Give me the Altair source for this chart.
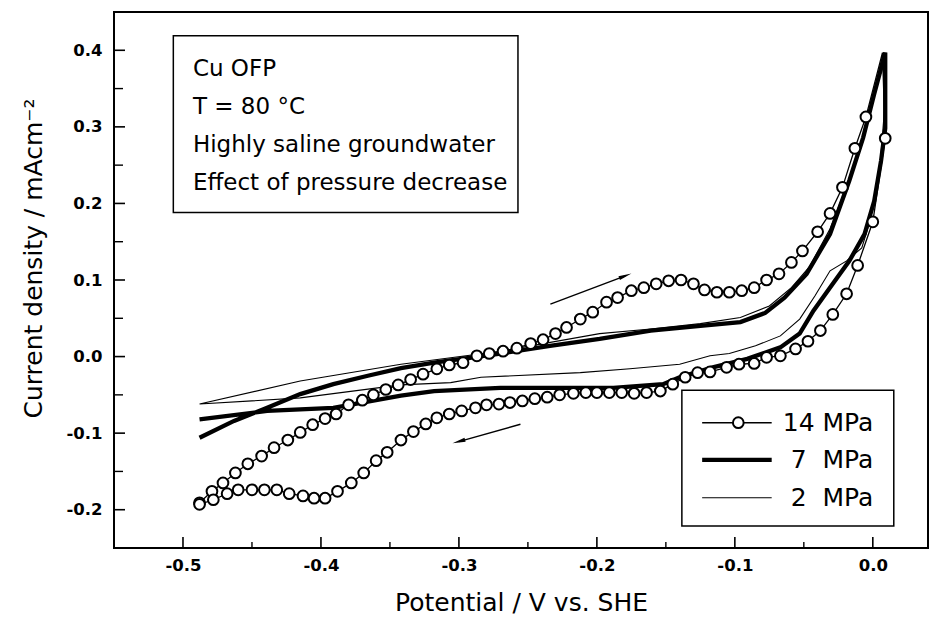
import altair as alt
import pandas as pd

# ---------------- data ----------------
# 14 MPa : anodic (forward) branch, then cathodic (reverse) branch
V14_FWD = [-0.488, -0.479, -0.471, -0.462, -0.453, -0.443, -0.434, -0.424, -0.415, -0.406,
           -0.397, -0.389, -0.380, -0.370, -0.362, -0.353, -0.344, -0.335, -0.326, -0.316,
           -0.307, -0.297, -0.287, -0.278, -0.268, -0.258, -0.248, -0.239, -0.230, -0.222,
           -0.212, -0.203, -0.193, -0.185, -0.175, -0.166, -0.157, -0.148, -0.139, -0.130,
           -0.122, -0.113, -0.104, -0.095, -0.086, -0.077, -0.068, -0.059, -0.051, -0.040,
           -0.031, -0.022, -0.013, -0.005, 0.007]
J14_FWD = [-0.191, -0.176, -0.165, -0.152, -0.140, -0.130, -0.119, -0.109, -0.099, -0.089,
           -0.081, -0.075, -0.063, -0.057, -0.050, -0.043, -0.037, -0.030, -0.023, -0.016,
           -0.011, -0.008, 0.001, 0.004, 0.007, 0.011, 0.017, 0.022, 0.030, 0.038,
           0.049, 0.058, 0.071, 0.077, 0.086, 0.090, 0.095, 0.099, 0.100, 0.095,
           0.087, 0.084, 0.084, 0.086, 0.090, 0.100, 0.108, 0.123, 0.138, 0.163,
           0.187, 0.221, 0.272, 0.313, 0.397]
V14_REV = [0.009, 0.000, -0.011, -0.019, -0.029, -0.038, -0.047, -0.056, -0.067, -0.077,
           -0.086, -0.097, -0.106, -0.118, -0.127, -0.136, -0.145, -0.154, -0.164, -0.173,
           -0.182, -0.191, -0.200, -0.208, -0.217, -0.227, -0.236, -0.245, -0.254, -0.263,
           -0.271, -0.280, -0.288, -0.298, -0.307, -0.316, -0.324, -0.333, -0.342, -0.352,
           -0.360, -0.369, -0.378, -0.388, -0.397, -0.405, -0.413, -0.423, -0.432, -0.441,
           -0.450, -0.460, -0.468, -0.478, -0.488]
J14_REV = [0.285, 0.176, 0.119, 0.082, 0.055, 0.034, 0.020, 0.010, 0.001, -0.001,
           -0.009, -0.010, -0.014, -0.020, -0.021, -0.027, -0.036, -0.045, -0.047, -0.048,
           -0.047, -0.047, -0.047, -0.047, -0.048, -0.050, -0.053, -0.055, -0.058, -0.060,
           -0.062, -0.063, -0.067, -0.071, -0.075, -0.080, -0.088, -0.098, -0.109, -0.125,
           -0.136, -0.152, -0.165, -0.176, -0.185, -0.185, -0.182, -0.179, -0.174, -0.174,
           -0.174, -0.174, -0.179, -0.187, -0.193]

# 7 MPa
V7_FWD = [-0.488, -0.463, -0.439, -0.415, -0.391, -0.366, -0.342, -0.318, -0.294, -0.270,
          -0.234, -0.198, -0.161, -0.125, -0.096, -0.078, -0.064, -0.048, -0.031, -0.017,
          -0.007, 0.001, 0.009]
J7_FWD = [-0.106, -0.084, -0.067, -0.049, -0.036, -0.025, -0.015, -0.008, -0.002, 0.004,
          0.014, 0.023, 0.034, 0.040, 0.045, 0.057, 0.077, 0.108, 0.160, 0.230,
          0.286, 0.343, 0.397]
V7_REV = [0.009, 0.006, 0.001, -0.006, -0.017, -0.029, -0.043, -0.053, -0.067, -0.091,
          -0.116, -0.140, -0.152, -0.188, -0.236, -0.270, -0.318, -0.342, -0.391, -0.439,
          -0.488]
J7_REV = [0.298, 0.256, 0.203, 0.160, 0.125, 0.095, 0.060, 0.030, 0.012, -0.003,
          -0.014, -0.027, -0.036, -0.041, -0.041, -0.041, -0.045, -0.051, -0.067, -0.071,
          -0.082]

# 2 MPa
V2_FWD = [-0.488, -0.415, -0.342, -0.270, -0.198, -0.161, -0.125, -0.096, -0.075, -0.059,
          -0.046, -0.031, -0.017, -0.005, 0.007]
J2_FWD = [-0.062, -0.032, -0.010, 0.007, 0.030, 0.036, 0.043, 0.051, 0.066, 0.090,
          0.117, 0.167, 0.232, 0.298, 0.393]
V2_REV = [0.009, 0.005, -0.002, -0.008, -0.019, -0.031, -0.042, -0.053, -0.067, -0.085,
          -0.104, -0.118, -0.140, -0.176, -0.212, -0.284, -0.306, -0.342, -0.415, -0.488]
J2_REV = [0.335, 0.243, 0.177, 0.142, 0.125, 0.112, 0.079, 0.049, 0.027, 0.014,
          0.004, 0.001, -0.010, -0.016, -0.021, -0.027, -0.034, -0.037, -0.054, -0.062]

SERIES = ["14 MPa", "7 MPa", "2 MPa"]
LEG_LABELS = ["14 MPa", "7\u00a0 MPa", "2\u00a0 MPa"]
X_TICKS = [-0.5, -0.4, -0.3, -0.2, -0.1, 0.0]
X_MINOR = [-0.45, -0.35, -0.25, -0.15, -0.05]
Y_TICKS = [-0.2, -0.1, 0.0, 0.1, 0.2, 0.3, 0.4]
Y_MINOR = [-0.15, -0.05, 0.05, 0.15, 0.25, 0.35]

INFO_LINES = ["Cu OFP", "T = 80 \u00b0C", "Highly saline groundwater", "Effect of pressure decrease"]
INFO_J = [0.367, 0.317, 0.267, 0.217]
INFO_V = -0.4928
INFO_BOX = dict(v=-0.507, v2=-0.2572, j=0.419, j2=0.188)

LEG_BOX = dict(v=-0.1384, v2=0.0152, j=-0.0439, j2=-0.2213)
LEG_J = [-0.0863, -0.1350, -0.1843]
LEG_LINE_V = (-0.1237, -0.0733)
LEG_MARK_V = -0.0975
LEG_TEXT_V = 0.0004

ARROW_V = [-0.2337, -0.2554]
ARROW_J = [0.0685, -0.0884]
ARROW_V2 = [-0.1794, -0.3001]
ARROW_J2 = [0.1055, -0.1110]
ARROW_ANGLE = [69, 254]

# ---------------- tables ----------------
rows = []


def add(series, vs, js, start):
    for i, (v, j) in enumerate(zip(vs, js)):
        rows.append(dict(series=series, v=v, j=j, order=start + i))


add("14 MPa", V14_FWD, J14_FWD, 0)
add("14 MPa", V14_REV, J14_REV, 1000)
add("7 MPa", V7_FWD, J7_FWD, 0)
add("7 MPa", V7_REV, J7_REV, 1000)
add("2 MPa", V2_FWD, J2_FWD, 0)
add("2 MPa", V2_REV, J2_REV, 1000)
curves = pd.DataFrame(rows)
c14 = curves[curves.series == "14 MPa"]
pts14 = c14[c14.j < 0.39]

FONT = "DejaVu Sans"
XS = alt.Scale(domain=[-0.55, 0.04], nice=False, zero=False)
YS = alt.Scale(domain=[-0.25, 0.45], nice=False, zero=False)
LBL = "replace(format(datum.value, '.1f'), '\u2212', '-')"
XAX = alt.Axis(values=X_TICKS, labelExpr=LBL, title="Potential / V vs. SHE", ticks=False,
               domain=False, grid=False, labelPadding=9, titlePadding=17,
               labelFontWeight="bold", labelFontSize=16.5, titleFontSize=25,
               titleFontWeight="normal", labelColor="black", titleColor="black",
               labelFont=FONT, titleFont=FONT)
YAX = alt.Axis(values=Y_TICKS, labelExpr=LBL, title="Current density / mAcm\u207b\u00b2", ticks=False,
               domain=False, grid=False, labelPadding=12, titlePadding=19, titleY=246,
               labelFontWeight="bold", labelFontSize=16.5, titleFontSize=25,
               titleFontWeight="normal", labelColor="black", titleColor="black",
               labelFont=FONT, titleFont=FONT)


def X(f="v"):
    return alt.X(f + ":Q", scale=XS, axis=XAX)


def Y(f="j"):
    return alt.Y(f + ":Q", scale=YS, axis=YAX)


thin2 = alt.Chart(curves[curves.series == "2 MPa"]).mark_line(color="black", strokeWidth=1.1).encode(
    x=X(), y=Y(), order="order:Q")
thick7 = alt.Chart(curves[curves.series == "7 MPa"]).mark_line(color="black", strokeWidth=4.3).encode(
    x=X(), y=Y(), order="order:Q")
line14 = alt.Chart(c14).mark_line(color="black", strokeWidth=1.3).encode(
    x=X(), y=Y(), order="order:Q")
circ14 = alt.Chart(pts14).mark_point(shape="circle", filled=True, fill="white", stroke="black",
                                      strokeWidth=2, size=115, opacity=1).encode(x=X(), y=Y())

# info box
info_box = alt.Chart(pd.DataFrame([INFO_BOX])).mark_rect(fill="white", stroke="black", strokeWidth=1.5).encode(
    x=X(), x2="v2:Q", y=Y(), y2="j2:Q")
info_txt = alt.Chart(pd.DataFrame({"t": INFO_LINES, "j": INFO_J, "v": [INFO_V] * 4})).mark_text(
    align="left", baseline="alphabetic", font=FONT, fontSize=23, color="black").encode(
    x=X(), y=Y(), text="t:N")

# legend
leg_box = alt.Chart(pd.DataFrame([LEG_BOX])).mark_rect(fill="white", stroke="black", strokeWidth=1.5).encode(
    x=X(), x2="v2:Q", y=Y(), y2="j2:Q")
leg_df = pd.DataFrame({"t": LEG_LABELS, "j": LEG_J, "v": [LEG_LINE_V[0]] * 3, "v2": [LEG_LINE_V[1]] * 3,
                       "w": [1.5, 4.3, 1.1], "vt": [LEG_TEXT_V] * 3, "vm": [LEG_MARK_V] * 3})
leg_lines = alt.Chart(leg_df).mark_rule(color="black").encode(
    x=X(), x2="v2:Q", y=Y(), strokeWidth=alt.StrokeWidth("w:Q", scale=None))
leg_mark = alt.Chart(leg_df.iloc[[0]]).mark_point(shape="circle", filled=True, fill="white", stroke="black",
                                                   strokeWidth=2, size=115, opacity=1).encode(x=X("vm"), y=Y())
leg_txt = alt.Chart(leg_df).mark_text(align="right", baseline="middle", font=FONT, fontSize=25,
                                      color="black").encode(x=X("vt"), y=Y(), text="t:N")

# arrows
arr_df = pd.DataFrame({"v": ARROW_V, "j": ARROW_J, "v2": ARROW_V2, "j2": ARROW_J2, "a": ARROW_ANGLE})
arr_lines = alt.Chart(arr_df).mark_rule(color="black", strokeWidth=1.4).encode(
    x=X(), x2="v2:Q", y=Y(), y2="j2:Q")
arr_heads = alt.Chart(arr_df).mark_point(shape="M0,-1L0.32,1L-0.32,1Z", filled=True, fill="black",
                                         opacity=1, size=170, strokeWidth=0).encode(
    x=X("v2"), y=Y("j2"), angle=alt.Angle("a:Q", scale=None))

# inward ticks
xt_major = pd.DataFrame({"v": X_TICKS, "j": [-0.25] * len(X_TICKS), "j2": [-0.25] * len(X_TICKS)})
xt_minor = pd.DataFrame({"v": X_MINOR, "j": [-0.25] * len(X_MINOR), "j2": [-0.25] * len(X_MINOR)})
yt_major = pd.DataFrame({"j": Y_TICKS, "v": [-0.55] * len(Y_TICKS), "v2": [-0.55] * len(Y_TICKS)})
yt_minor = pd.DataFrame({"j": Y_MINOR, "v": [-0.55] * len(Y_MINOR), "v2": [-0.55] * len(Y_MINOR)})
xtM = alt.Chart(xt_major).mark_rule(color="black", strokeWidth=1.6, y2Offset=-11).encode(
    x=X(), y=Y(), y2="j2:Q")
xtm = alt.Chart(xt_minor).mark_rule(color="black", strokeWidth=1.4, y2Offset=-6).encode(
    x=X(), y=Y(), y2="j2:Q")
ytM = alt.Chart(yt_major).mark_rule(color="black", strokeWidth=1.6, x2Offset=11).encode(
    x=X(), x2="v2:Q", y=Y())
ytm = alt.Chart(yt_minor).mark_rule(color="black", strokeWidth=1.4, x2Offset=9).encode(
    x=X(), x2="v2:Q", y=Y())

chart = alt.layer(
    info_box, info_txt, leg_box, thin2, thick7, line14, circ14,
    leg_lines, leg_mark, leg_txt, arr_lines, arr_heads, xtM, xtm, ytM, ytm
).properties(
    width=814, height=536,
    padding={"left": 114, "top": 12, "right": 7, "bottom": 80},
    autosize=alt.AutoSizeParams(type="none"),
    background="white",
).configure_view(stroke="black", strokeWidth=2)

chart.save("out.html", embed_options={"renderer": "svg", "actions": False})
